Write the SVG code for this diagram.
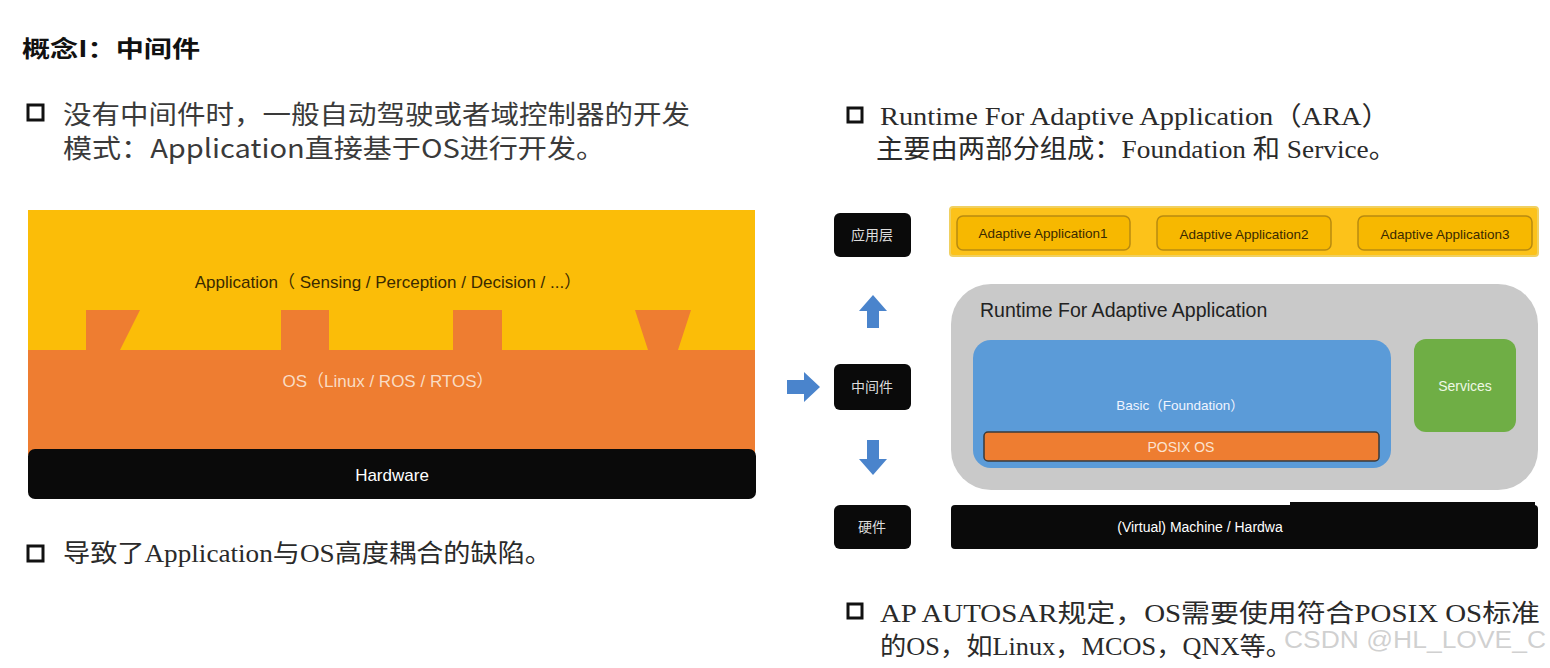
<svg xmlns="http://www.w3.org/2000/svg" width="1550" height="668" viewBox="0 0 1550 668">
<style>
.cjk{font-family:"Noto Sans CJK SC","Noto Sans",sans-serif;fill:#3a3a3a}
.ser{font-family:"Liberation Serif","Noto Sans CJK SC",serif;fill:#2a2a2a}
.lbl{font-family:"Liberation Sans","Noto Sans CJK SC",sans-serif}
.blk{fill:#0a0a0a}
.arw{fill:#4a84cc}
.aa{fill:#f7b800;stroke:#b88a10;stroke-width:1.5}
</style>
<rect width="1550" height="668" fill="#ffffff"/>

<g id="title">
<text x="22" y="57" class="cjk" font-size="23" font-weight="bold" fill="#111" style="fill:#111" textLength="178" lengthAdjust="spacingAndGlyphs">概念I：中间件</text>
</g>

<g id="bullet1">
<rect x="28" y="105" width="15" height="15" fill="none" stroke="#111" stroke-width="3"/>
<text x="63" y="124" class="cjk" font-size="26" textLength="627" lengthAdjust="spacingAndGlyphs">没有中间件时，一般自动驾驶或者域控制器的开发</text>
<text x="63" y="158" class="cjk" font-size="26" textLength="542" lengthAdjust="spacingAndGlyphs">模式：Application直接基于OS进行开发。</text>
</g>

<g id="left-stack">
<rect x="28" y="210" width="727" height="240" fill="#fbbd08"/>
<path d="M28,350 H86 V310 H140 L120,350 H281 V310 H329 V350 H453 V310 H502 V350 H648 L635,310 H691 L678,350 H755 V455 H28 Z" fill="#ee7d31"/>
<text x="388" y="288" class="lbl" font-size="17" text-anchor="middle" fill="#3a2a00">Application（ Sensing / Perception / Decision / ...）</text>
<text x="388" y="387" class="lbl" font-size="17" text-anchor="middle" fill="#f9dcc4">OS（Linux / ROS / RTOS）</text>
</g>
<g id="left-hardware">
<rect x="28" y="449" width="728" height="50" rx="7" class="blk"/>
<text x="392" y="481" class="lbl" font-size="17" text-anchor="middle" fill="#ffffff">Hardware</text>
</g>

<g id="bullet2">
<rect x="28" y="546" width="15" height="15" fill="none" stroke="#111" stroke-width="3"/>
<text x="63" y="562" class="ser" font-size="25" textLength="489" lengthAdjust="spacingAndGlyphs">导致了Application与OS高度耦合的缺陷。</text>
</g>

<g id="bullet3">
<rect x="848" y="108" width="14" height="14" fill="none" stroke="#111" stroke-width="3"/>
<text x="880" y="125" class="ser" font-size="26" textLength="510" lengthAdjust="spacingAndGlyphs">Runtime For Adaptive Application（ARA）</text>
<text x="876" y="158" class="ser" font-size="26" textLength="520" lengthAdjust="spacingAndGlyphs">主要由两部分组成：Foundation 和 Service。</text>
</g>

<g id="label-app">
<rect x="834" y="213" width="77" height="44" rx="6" class="blk"/>
<text x="872" y="240" class="cjk" font-size="14" text-anchor="middle" style="fill:#ddd">应用层</text>
</g>
<g id="label-mid">
<rect x="834" y="364" width="77" height="46" rx="6" class="blk"/>
<text x="872" y="392" class="cjk" font-size="14" text-anchor="middle" style="fill:#ddd">中间件</text>
</g>
<g id="label-hw">
<rect x="834" y="505" width="77" height="44" rx="6" class="blk"/>
<text x="872" y="532" class="cjk" font-size="14" text-anchor="middle" style="fill:#ddd">硬件</text>
</g>

<g id="arrows">
<path class="arw" d="M873,295 L887,311 H879 V328 H867 V311 H859 Z"/>
<path class="arw" d="M820,387 L804,372 V380 H787 V394 H804 V402 Z"/>
<path class="arw" d="M873,475 L887,459 H879 V440 H867 V459 H859 Z"/>
</g>

<g id="app-layer">
<rect x="950" y="207" width="588" height="49" rx="3" fill="#fcc21a" stroke="#f0d060" stroke-width="2"/>
</g>
<g id="aa1">
<rect x="957" y="216" width="173" height="34" rx="6" class="aa"/>
<text x="1043" y="238" class="lbl" font-size="13.5" text-anchor="middle" fill="#3a2a00">Adaptive  Application1</text>
</g>
<g id="aa2">
<rect x="1157" y="216" width="174" height="34" rx="6" class="aa"/>
<text x="1244" y="239" class="lbl" font-size="13.5" text-anchor="middle" fill="#3a2a00">Adaptive  Application2</text>
</g>
<g id="aa3">
<rect x="1358" y="216" width="174" height="34" rx="6" class="aa"/>
<text x="1445" y="239" class="lbl" font-size="13.5" text-anchor="middle" fill="#3a2a00">Adaptive  Application3</text>
</g>

<g id="runtime">
<rect x="951" y="284" width="587" height="206" rx="40" fill="#c9c9c9"/>
<text x="980" y="317" class="lbl" font-size="19.5" fill="#222">Runtime For Adaptive Application</text>
</g>
<g id="basic">
<rect x="973" y="340" width="418" height="128" rx="18" fill="#5b9bd8"/>
<text x="1180" y="410" class="lbl" font-size="13.5" text-anchor="middle" fill="#f0f4ff">Basic（Foundation）</text>
</g>
<g id="posix">
<rect x="984" y="432" width="395" height="29" rx="4" fill="#ee7d31" stroke="#3a3a3a" stroke-width="1.5"/>
<text x="1181" y="452" class="lbl" font-size="14" text-anchor="middle" fill="#fbe3d0">POSIX OS</text>
</g>
<g id="services">
<rect x="1414" y="339" width="102" height="93" rx="12" fill="#6fae45"/>
<text x="1465" y="391" class="lbl" font-size="14" text-anchor="middle" fill="#eef8e4">Services</text>
</g>
<g id="machine">
<rect x="951" y="505" width="587" height="44" rx="4" class="blk"/>
<rect x="1290" y="502" width="245" height="8" class="blk"/>
<text x="1200" y="532" class="lbl" font-size="14" text-anchor="middle" fill="#ffffff">(Virtual) Machine / Hardwa</text>
</g>

<g id="bullet4">
<rect x="848" y="604" width="14" height="14" fill="none" stroke="#111" stroke-width="3"/>
<text x="880" y="622" class="ser" font-size="25" textLength="660" lengthAdjust="spacingAndGlyphs">AP AUTOSAR规定，OS需要使用符合POSIX OS标准</text>
<text x="880" y="655" class="ser" font-size="25" textLength="412" lengthAdjust="spacingAndGlyphs">的OS，如Linux，MCOS，QNX等。</text>
</g>

<text x="1284" y="648" font-family="'Liberation Sans',sans-serif" font-size="23" fill="#c8c8c8" fill-opacity="0.85" textLength="262" lengthAdjust="spacingAndGlyphs">CSDN @HL_LOVE_C</text>
</svg>
